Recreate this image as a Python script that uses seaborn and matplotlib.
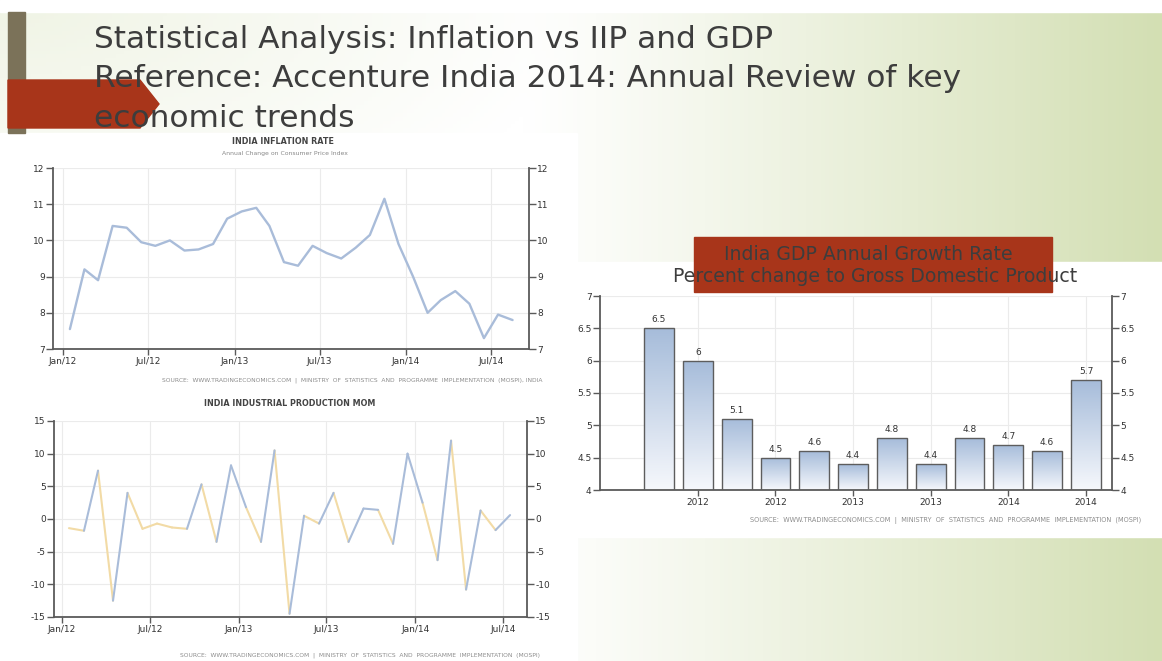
import numpy as np
import pandas as pd
import matplotlib
matplotlib.use('Agg')
import matplotlib.pyplot as plt
from matplotlib.colors import LinearSegmentedColormap, to_rgb
from matplotlib.patches import Rectangle, Polygon
import seaborn as sns

# values
infl_values = [7.55, 9.2, 8.9, 10.4, 10.35, 9.95, 9.85, 10.0, 9.72, 9.75, 9.9, 10.6,
               10.8, 10.9, 10.4, 9.4, 9.3, 9.85, 9.65, 9.5, 9.8, 10.15, 11.15, 9.9,
               9.0, 8.0, 8.35, 8.6, 8.25, 7.3, 7.95, 7.8]
iip_values = [-1.4, -1.8, 7.4, -12.5, 4.0, -1.5, -0.7, -1.3, -1.5, 5.3, -3.5, 8.2,
              1.8, -3.5, 10.5, -14.5, 0.5, -0.7, 4.0, -3.5, 1.6, 1.4, -3.8, 10.0,
              2.5, -6.3, 12.0, -10.8, 1.3, -1.7, 0.6]
month_ticks = ['Jan/12', 'Jul/12', 'Jan/13', 'Jul/13', 'Jan/14', 'Jul/14']

gdp_quarters = ['Sep 2011', 'Dec 2011', 'Mar 2012', 'Jun 2012', 'Sep 2012', 'Dec 2012',
                'Mar 2013', 'Jun 2013', 'Sep 2013', 'Dec 2013', 'Mar 2014', 'Jun 2014']
gdp_values = [6.5, 6.0, 5.1, 4.5, 4.6, 4.4, 4.8, 4.4, 4.8, 4.7, 4.6, 5.7]
gdp_tick_labels = ['2012', '2012', '2013', '2013', '2014', '2014']

infl_dates = pd.date_range('2012-01-01', periods=len(infl_values), freq='MS') + pd.Timedelta(days=15)
iip_dates = pd.date_range('2012-01-01', periods=len(iip_values), freq='MS') + pd.Timedelta(days=15)
tick_dates = pd.date_range('2012-01-01', periods=len(month_ticks), freq='6MS')

source_text = 'SOURCE:  WWW.TRADINGECONOMICS.COM  |  MINISTRY  OF  STATISTICS  AND  PROGRAMME  IMPLEMENTATION  (MOSPI)'

W, H = 1162, 661
line_blue = '#a9bcd9'
line_yellow = '#f2dba6'
axis_grey = '#5a5a5a'
slide_red = '#a8351a'
title_grey = '#3d3d3d'

sns.set_style('white')
plt.rcParams['font.family'] = ['DejaVu Sans']
plt.rcParams['axes.unicode_minus'] = False

fig = plt.figure(figsize=(W / 100, H / 100), dpi=100)


def px_rect(x0, y0, x1, y1):
    return [x0 / W, 1 - y1 / H, (x1 - x0) / W, (y1 - y0) / H]


# slide background, drawn in pixel coordinates
bg = fig.add_axes([0, 0, 1, 1], zorder=-10)
X, Y = np.meshgrid(np.linspace(0, 1, 300), np.linspace(0, 1, 170))
t = np.clip((X - 0.45) / 0.55, 0, 1) ** 1.1 + 0.35 * np.clip(1 - np.hypot(X / 0.5, Y / 0.4), 0, 1)
t = np.clip(t, 0, 1)[..., None]
img = (1 - t) * np.ones(3) + t * np.array(to_rgb('#d3dfb3'))
bg.imshow(img, extent=(0, W, H, 0), aspect='auto')
bg.set_xlim(0, W)
bg.set_ylim(H, 0)
bg.axis('off')

bg.add_patch(Rectangle((0, 0), W, 12, color='white'))
bg.add_patch(Rectangle((0, 133), 577, H - 133, color='white'))
bg.add_patch(Rectangle((572, 262), W - 572, 537 - 262, color='white'))
bg.add_patch(Rectangle((8, 12), 17, 121, color='#7b7259'))
bg.add_patch(Polygon([(8, 80), (140, 80), (159, 104), (140, 128), (8, 128)], color=slide_red))
bg.add_patch(Rectangle((694, 237), 358, 55, color=slide_red))

for y, line in zip([48, 87, 127], ['Statistical Analysis: Inflation vs IIP and GDP',
                                   'Reference: Accenture India 2014: Annual Review of key',
                                   'economic trends']):
    bg.text(94, y, line, fontsize=22.5, color=title_grey, va='baseline', zorder=5)

bg.text(868, 254, 'India GDP Annual Growth Rate', fontsize=13.6, color=title_grey, ha='center', va='center')
bg.text(875, 276, 'Percent change to Gross Domestic Product', fontsize=13.6, color=title_grey, ha='center', va='center')

bg.text(283, 142, 'INDIA INFLATION RATE', fontsize=5.8, fontweight='bold', color='#444444', ha='center', va='center')
bg.text(285, 153, 'Annual Change on Consumer Price Index', fontsize=4.4, color='#888888', ha='center', va='center')
bg.text(290, 403, 'INDIA INDUSTRIAL PRODUCTION MOM', fontsize=5.8, fontweight='bold', color='#444444', ha='center', va='center')
bg.text(543, 380, source_text + ', INDIA', fontsize=4.3, color='#8c8c8c', ha='right', va='center')
bg.text(540, 655, source_text, fontsize=4.3, color='#8c8c8c', ha='right', va='center')
bg.text(1141, 520, source_text, fontsize=4.7, color='#8c8c8c', ha='right', va='center')


def style_axes(ax, yticks):
    ax.set_facecolor('white')
    for side in ['left', 'right', 'bottom']:
        ax.spines[side].set_color(axis_grey)
        ax.spines[side].set_linewidth(1.3)
    ax.spines['top'].set_visible(False)
    ax.set_yticks(yticks)
    ax.tick_params(axis='y', left=True, right=True, labelleft=True, labelright=True,
                   direction='out', length=5, width=1, color=axis_grey,
                   labelsize=6.5, labelcolor='#333333', pad=1)
    ax.tick_params(axis='x', bottom=True, direction='out', length=4, width=1, color=axis_grey,
                   labelsize=6.5, labelcolor='#333333', pad=2)
    ax.grid(True, color='#ebebeb', lw=0.8)
    ax.set_axisbelow(True)
    ax.set_xlabel('')
    ax.set_ylabel('')


# inflation
ax1 = fig.add_axes(px_rect(53, 168, 529, 349))
sns.lineplot(x=infl_dates, y=infl_values, ax=ax1, color=line_blue, lw=1.7)
ax1.set_ylim(7, 12)
ax1.set_xlim(pd.Timestamp('2011-12-11'), pd.Timestamp('2014-09-20'))
ax1.set_xticks(tick_dates)
ax1.set_xticklabels(month_ticks)
style_axes(ax1, range(7, 13))

# industrial production, each segment coloured by the sign of the value it reaches
seg_rows = []
for i in range(1, len(iip_values)):
    sign = 'up' if iip_values[i] >= 0 else 'down'
    seg_rows.append((i, iip_dates[i - 1], iip_values[i - 1], sign))
    seg_rows.append((i, iip_dates[i], iip_values[i], sign))
seg = pd.DataFrame(seg_rows, columns=['seg', 'date', 'value', 'sign'])

ax2 = fig.add_axes(px_rect(54, 421, 527, 617))
sns.lineplot(data=seg, x='date', y='value', hue='sign', units='seg', estimator=None,
             palette={'up': line_blue, 'down': line_yellow}, lw=1.5, legend=False,
             solid_capstyle='round', ax=ax2)
ax2.set_ylim(-15, 15)
ax2.set_xlim(pd.Timestamp('2011-12-16'), pd.Timestamp('2014-08-20'))
ax2.set_xticks(tick_dates)
ax2.set_xticklabels(month_ticks)
style_axes(ax2, range(-15, 16, 5))

# gdp bars
ax3 = fig.add_axes(px_rect(600, 296, 1112, 490))
sns.barplot(x=gdp_quarters, y=gdp_values, width=0.77, color=line_blue, ax=ax3)
ax3.bar_label(ax3.containers[0], fmt='%g', padding=3, fontsize=6.5, color='#333333')
bar_cmap = LinearSegmentedColormap.from_list('bar', ['#f6f8fc', '#a6bcda'])
grad = np.linspace(0, 1, 256).reshape(-1, 1)
for bar in ax3.patches:
    x0, w, h = bar.get_x(), bar.get_width(), bar.get_height()
    im = ax3.imshow(grad, extent=(x0, x0 + w, 4, h), origin='lower', cmap=bar_cmap,
                    aspect='auto', zorder=2)
    im.set_clip_path(bar)
    bar.set_facecolor('none')
    bar.set_edgecolor('#5d5d5d')
    bar.set_linewidth(1)
    bar.set_zorder(3)
ax3.set_ylim(4, 7)
ax3.set_xlim(-1.52, 11.67)
ax3.set_xticks(range(1, len(gdp_quarters), 2))
ax3.set_xticklabels(gdp_tick_labels)
ax3.yaxis.set_major_formatter(matplotlib.ticker.FormatStrFormatter('%g'))
style_axes(ax3, np.arange(4, 7.01, 0.5))

fig.savefig('out.png', dpi=100)
